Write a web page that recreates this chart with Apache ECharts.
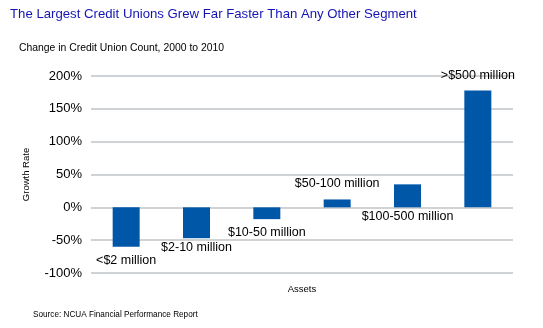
<!DOCTYPE html>
<html>
<head>
<meta charset="utf-8">
<script src="https://cdn.jsdelivr.net/npm/echarts@6/dist/echarts.min.js"></script>
<style>
  html, body { margin: 0; padding: 0; background: #ffffff; }
  #chart { width: 543px; height: 328px; }
</style>
</head>
<body>
<div id="chart"></div>
<script>
// Asset-size segments and their growth in credit union count, 2000-2010 (%)
const categories = ['<$2 million', '$2-10 million', '$10-50 million', '$50-100 million', '$100-500 million', '>$500 million'];
const growth = [-60, -47, -18, 12, 35, 178];
// Where each segment name sits relative to its bar
const labelSide = ['bottom', 'bottom', 'bottom', 'top', 'bottom', 'top'];
const labelGap = [7, 3, 7, 9, 3, 8];
const yTicks = { min: -100, max: 200, step: 50 };

const FONT = 'Liberation Sans';
const chart = echarts.init(document.getElementById('chart'), null, { renderer: 'canvas' });

chart.setOption({
  animation: false,
  backgroundColor: '#ffffff',
  title: [
    { text: 'The Largest Credit Unions Grew Far Faster Than Any Other Segment', left: 10, top: 8, padding: 0,
      textStyle: { fontFamily: FONT, fontSize: 13.2, fontWeight: 'normal', color: '#1414b4' } },
    { text: 'Change in Credit Union Count, 2000 to 2010', left: 19, top: 43, padding: 0,
      textStyle: { fontFamily: FONT, fontSize: 10.4, fontWeight: 'normal', color: '#000000' } },
    { text: 'Source: NCUA Financial Performance Report', left: 33, top: 311, padding: 0,
      textStyle: { fontFamily: FONT, fontSize: 8.2, fontWeight: 'normal', color: '#000000' } }
  ],
  grid: { left: 91, right: 30, top: 76, bottom: 55, containLabel: false },
  xAxis: {
    type: 'category',
    data: categories,
    name: 'Assets',
    nameLocation: 'middle',
    nameGap: 11,
    nameTextStyle: { fontFamily: FONT, fontSize: 9.5, color: '#000000' },
    axisLine: { show: false },
    axisTick: { show: false },
    axisLabel: { show: false }
  },
  yAxis: {
    type: 'value',
    min: yTicks.min,
    max: yTicks.max,
    interval: yTicks.step,
    name: 'Growth Rate',
    nameLocation: 'middle',
    nameGap: 60,
    nameRotate: 90,
    nameTextStyle: { fontFamily: FONT, fontSize: 9.5, color: '#000000' },
    axisLine: { show: false },
    axisTick: { show: false },
    axisLabel: { formatter: '{value}%', margin: 9, fontFamily: FONT, fontSize: 13, color: '#000000' },
    splitLine: { lineStyle: { color: '#c0c4c8', width: 1.5 } }
  },
  series: [{
    type: 'bar',
    barWidth: 27,
    itemStyle: { color: '#0057a8' },
    data: growth.map((v, i) => ({
      value: v,
      label: {
        show: true,
        position: labelSide[i],
        distance: labelGap[i],
        formatter: categories[i],
        fontFamily: FONT,
        fontSize: 12.5,
        color: '#000000'
      }
    }))
  }]
});
</script>
</body>
</html>
